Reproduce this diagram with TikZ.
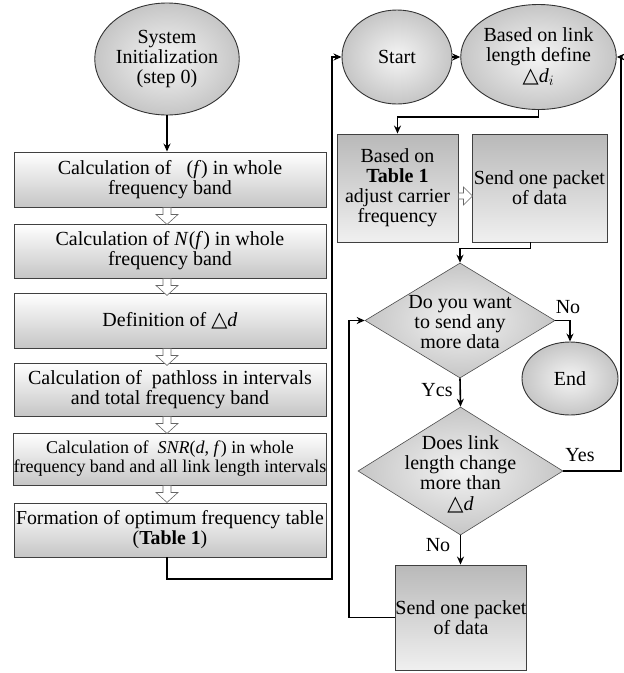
\documentclass[tikz,border=0pt]{standalone}
\usepackage{fontspec}
\setmainfont{Liberation Serif}
\newfontfamily\symf{DejaVu Serif}
\usetikzlibrary{shapes.geometric,calc,arrows.meta}
\newcommand\hollowdown[1]{\draw[hollow] (#1) ++(-4,0) -- ++(0,7) -- ++(-7,0) -- ++(11,10) -- ++(11,-10) -- ++(-7,0) -- ++(0,-7) -- cycle;}
\newcommand\tri{{\symf\fontsize{21}{20}\selectfont △}}
\begin{document}
\begin{tikzpicture}[x=1pt,y=-1pt,
 every node/.style={font=\fontsize{20}{20}\selectfont, align=center, inner sep=0pt},
 lbox/.style={rectangle, draw=black!75, line width=0.9pt, top color=white, bottom color=gray!45, minimum width=312pt},
 rbox/.style={rectangle, draw=black!75, line width=0.9pt, top color=gray!55, bottom color=gray!12},
 oval/.style={ellipse, draw=black!80, line width=0.9pt, inner color=gray!8, outer color=gray!45},
 dia/.style={diamond, draw=black!70, line width=0.6pt, inner color=gray!10, outer color=gray!45},
 conn/.style={line width=1.6pt, -{Stealth[length=8pt,width=7pt]}},
 hollow/.style={draw=black!60, fill=white, line width=0.6pt},
 lbl/.style={font=\fontsize{20}{20}\selectfont}]
\useasboundingbox (0,0) rectangle (624,673);

% left column
\node[oval, minimum width=134pt, minimum height=112pt] (init) at (167,59) {System\\Initialization\\(step 0)};
\node[lbox, minimum height=55pt] (b1) at (170,179.5) {Calculation of \ \ (\textit{f}) in whole\\frequency band};
\node[lbox, minimum height=54pt] (b2) at (170,251) {Calculation of \textit{N}(\textit{f}) in whole\\frequency band};
\node[lbox, minimum height=55pt] (b3) at (170,320.5) {Definition of \tri\textit{d}};
\node[lbox, minimum height=53pt] (b4) at (170,389.5) {Calculation of \ pathloss in intervals\\and total frequency band};
\node[lbox, minimum height=52pt, font=\fontsize{18}{19}\selectfont] (b5) at (170,459) {Calculation of \ \textit{SNR}(\textit{d}, \textit{f}) in whole\\frequency band and all link length intervals};
\node[lbox, minimum height=54pt, font=\fontsize{19.8}{20}\selectfont] (b6) at (170,530) {Formation of optimum frequency table\\(\textbf{Table 1})};

% right column
\node[oval, minimum width=110pt, minimum height=94pt] (start) at (397,57) {Start};
\node[oval, minimum width=143pt, minimum height=105pt] (based) at (538.5,57) {Based on link\\length define\\[1pt]\tri\textit{d}$_i$};
\node[rbox, minimum width=121pt, minimum height=108pt] (A) at (397.5,188) {Based on\\\textbf{Table 1}\\adjust carrier\\frequency};
\node[rbox, minimum width=135pt, minimum height=108pt] (B) at (539.5,188) {Send one packet\\of data};
\node[dia, minimum width=190pt, minimum height=115pt] (d1) at (460,320.5) {};
\node (d1t) at (460,322) {Do you want\\to send any\\more data};
\node[oval, minimum width=96pt, minimum height=73pt] (end) at (570,378.5) {End};
\node[dia, minimum width=205pt, minimum height=128pt] (d2) at (460.5,471) {};
\node (d2t) at (460.5,474) {Does link\\length change\\more than\\[1pt]\tri\textit{d}};
\node[rbox, minimum width=126pt, minimum height=105pt] (C) at (461,617.5) {Send one packet\\of data};

% labels
\node[lbl] (lno1) at (568,307) {No};
\node[lbl] (lyc) at (437,390) {Ycs};
\node[lbl] (lyes) at (580,455) {Yes};
\node[lbl] (lno2) at (438,545) {No};

% coordinates
\coordinate (t1) at (332,579);
\coordinate (r1) at (621,471);
\coordinate (l1) at (349,618);

% connectors
\draw[conn] (init.south) -- (init.south |- b1.north);
\hollowdown{init.south |- b1.south}
\hollowdown{init.south |- b2.south}
\hollowdown{init.south |- b3.south}
\hollowdown{init.south |- b4.south}
\hollowdown{init.south |- b5.south}
\draw[conn] (init.south |- b6.south) -- (init.south |- t1) -- (t1) |- (start.west);
\draw[conn] (start.east) -- (based.west);
\draw[conn] (based.south) -- ++(0,7) -| (A.north);
\draw[hollow] ($(A.east)+(0,8)$) ++(0,-3) -- ++(5,0) -- ++(0,-6) -- ++(9,9) -- ++(-9,9) -- ++(0,-6) -- ++(-5,0) -- cycle;
\draw[conn] ($(B.south)+(-9,0)$) -- ++(0,6) -| (d1.north);
\draw[conn] (d1.east) -| (end.north);
\draw[conn] (d1.south) -- (d2.north);
\draw[conn] (d2.east) -- (r1) |- (based.east);
\draw[conn] (d2.south) -- (d2.south |- C.north);
\draw[conn] (C.west) -- (C.west -| l1) |- (d1.west);
\end{tikzpicture}
\end{document}
